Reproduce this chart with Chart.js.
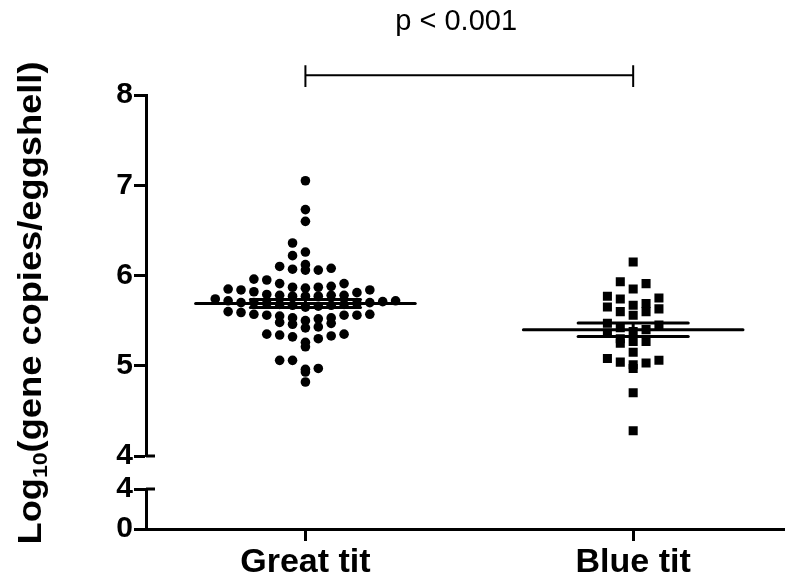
<!DOCTYPE html>
<html>
<head>
<meta charset="utf-8">
<script src="https://cdn.jsdelivr.net/npm/chart.js@4"></script>
<style>
  html, body { margin: 0; padding: 0; background: #fff; }
  #wrap { width: 791px; height: 577px; }
</style>
</head>
<body>
<div id="wrap"><canvas id="chart"></canvas></div>
<script>
// groups on the x axis
const groups = ['Great tit', 'Blue tit'];

// log10 gene copies per eggshell
const greatTit = [
  7.05, 6.73, 6.60, 6.36, 6.26, 6.22,
  6.12, 6.08, 6.06, 6.06, 6.07, 6.10,
  5.96, 5.91, 5.88, 5.87, 5.87, 5.91, 5.95,
  5.85, 5.84, 5.81, 5.78, 5.78, 5.77, 5.77, 5.77, 5.78, 5.79, 5.82, 5.84, 5.86,
  5.70, 5.67, 5.74, 5.72, 5.71, 5.70, 5.69, 5.68, 5.66, 5.72, 5.70, 5.68, 5.65, 5.67, 5.69,
  5.56, 5.53, 5.60, 5.57, 5.56, 5.57, 5.59, 5.53, 5.55, 5.56,
  5.50, 5.47, 5.46, 5.48, 5.52,
  5.43, 5.42,
  5.35, 5.33, 5.30, 5.32, 5.34, 5.35,
  5.26, 5.21,
  5.06, 5.06, 4.96, 4.97, 4.93, 4.82
];
const blueTit = [
  6.15, 5.93, 5.91, 5.85, 5.77, 5.74, 5.75,
  5.67, 5.63, 5.60, 5.56, 5.60, 5.65, 5.69,
  5.47, 5.45, 5.42, 5.40, 5.38, 5.36,
  5.27, 5.25, 5.30, 5.27,
  5.15, 5.06, 5.03, 4.97, 5.01, 5.04, 5.08,
  4.70, 4.28
];

// mean and SEM per group
const groupMeans = [5.69, 5.40];
const groupSems = [0.045, 0.075];

// y ticks either side of the axis break
const upperTicks = [4, 5, 6, 7, 8];
const lowerTicks = [0, 4];

const pLabel = 'p < 0.001';

const ROW_STEP = 0.1;     // values closer than this share a row of the swarm
const COL_STEP = 0.0393;  // horizontal spacing of swarm columns (x units)
const MEAN_HALF = 0.335;
const CAP_HALF = 0.168;
const BRACKET_Y = 8.22;

// prism-like swarm: bin into rows, spread each row around the group centre,
// highest values of a row on the outside
function swarm(values, centre) {
  const sorted = values.slice().sort((a, b) => b - a);
  const rows = [];
  let row = null;
  sorted.forEach(v => {
    if (!row || row[0] - v > ROW_STEP + 1e-9) { row = []; rows.push(row); }
    row.push(v);
  });
  const pts = [];
  rows.forEach(r => {
    const n = r.length;
    const cols = [];
    for (let k = -Math.floor(n / 2); k < n - Math.floor(n / 2); k++) cols.push(k);
    cols.sort((a, b) => Math.abs(b) - Math.abs(a) || a - b);
    r.forEach((v, i) => pts.push({ x: centre + cols[i] * COL_STEP, y: v }));
  });
  return pts;
}

function lineSet(data, width, cap) {
  return {
    type: 'line', data: data, yAxisID: 'y',
    borderColor: '#000', borderWidth: width, borderCapStyle: cap || 'butt',
    pointRadius: 0, fill: false, spanGaps: false, clip: false
  };
}

const datasets = [];
groupMeans.forEach((m, i) => {
  const c = i + 1, s = groupSems[i];
  datasets.push(lineSet([{ x: c - MEAN_HALF, y: m }, { x: c + MEAN_HALF, y: m }], 3, 'round'));
  datasets.push(lineSet([{ x: c - CAP_HALF, y: m + s }, { x: c + CAP_HALF, y: m + s }], 3, 'round'));
  datasets.push(lineSet([{ x: c - CAP_HALF, y: m - s }, { x: c + CAP_HALF, y: m - s }], 3, 'round'));
  datasets.push(lineSet([{ x: c, y: m - s }, { x: c, y: m + s }], 3));
});

datasets.push({
  type: 'scatter', label: groups[0], data: swarm(greatTit, 1), yAxisID: 'y',
  pointStyle: 'circle', pointRadius: 4.8, backgroundColor: '#000', borderWidth: 0
});
datasets.push({
  type: 'scatter', label: groups[1], data: swarm(blueTit, 2), yAxisID: 'y',
  pointStyle: 'rect', pointRadius: 6.4, backgroundColor: '#000', borderWidth: 0
});

// significance bracket
datasets.push(lineSet([
  { x: 1, y: BRACKET_Y - 0.13 }, { x: 1, y: BRACKET_Y + 0.11 }, { x: NaN, y: NaN },
  { x: 1, y: BRACKET_Y }, { x: 2, y: BRACKET_Y }, { x: NaN, y: NaN },
  { x: 2, y: BRACKET_Y - 0.13 }, { x: 2, y: BRACKET_Y + 0.11 }
], 2));

const FONT = "'Liberation Sans', Arial, sans-serif";

const extras = {
  id: 'extras',
  afterDraw(chart) {
    const ctx = chart.ctx;
    const x = chart.scales.x, y = chart.scales.y, yLow = chart.scales.yLow;
    ctx.save();
    // little caps to the right of the axis at the break
    ctx.strokeStyle = '#000';
    ctx.lineWidth = 3;
    [[y, 4], [yLow, 4]].forEach(([sc, v]) => {
      const py = sc.getPixelForValue(v);
      ctx.beginPath();
      ctx.moveTo(x.left, py);
      ctx.lineTo(x.left + 9, py);
      ctx.stroke();
    });
    // p value
    ctx.fillStyle = '#000';
    ctx.font = '29px ' + FONT;
    ctx.textAlign = 'center';
    ctx.textBaseline = 'middle';
    ctx.fillText(pLabel, x.getPixelForValue(1.46), 22);
    // y title with subscript, stretched a little along its length
    const parts = [
      { t: 'Log', f: 'bold 33px ' + FONT, dy: 0 },
      { t: '10', f: 'bold 21px ' + FONT, dy: 9 },
      { t: '(gene copies/eggshell)', f: 'bold 33px ' + FONT, dy: 0 }
    ];
    let total = 0;
    parts.forEach(p => { ctx.font = p.f; p.w = ctx.measureText(p.t).width; total += p.w; });
    const stretch = 483 / total;
    ctx.translate(32, 303);
    ctx.rotate(-Math.PI / 2);
    ctx.scale(stretch, 1);
    ctx.textAlign = 'left';
    ctx.textBaseline = 'middle';
    let cx = -total / 2;
    parts.forEach(p => { ctx.font = p.f; ctx.fillText(p.t, cx, p.dy); cx += p.w; });
    ctx.restore();
  }
};

const yCommon = {
  position: 'left', stack: 'left',
  border: { display: true, color: '#000', width: 3 },
  grid: { drawOnChartArea: false, drawTicks: true, tickLength: 12, tickWidth: 3, tickColor: '#000' },
  ticks: { color: '#000', padding: 1, autoSkip: false, font: { family: FONT, size: 30, weight: 'bold' } },
  afterFit: s => { s.width = 146; }
};

new Chart(document.getElementById('chart'), {
  type: 'scatter',
  data: { datasets: datasets },
  plugins: [extras],
  options: {
    responsive: true,
    maintainAspectRatio: false,
    animation: false,
    layout: { padding: { top: 95, right: 0, bottom: 0, left: 0 } },
    plugins: { legend: { display: false }, tooltip: { enabled: false }, title: { display: false } },
    scales: {
      x: {
        type: 'linear', position: 'bottom', min: 0.5136, max: 2.462,
        afterBuildTicks: s => { s.ticks = groups.map((g, i) => ({ value: i + 1 })); },
        ticks: {
          color: '#000', padding: 1, autoSkip: false, maxRotation: 0, minRotation: 0,
          font: { family: FONT, size: 34, weight: 'bold' },
          callback: v => groups[v - 1]
        },
        border: { display: true, color: '#000', width: 3 },
        grid: { drawOnChartArea: false, drawTicks: true, tickLength: 12, tickWidth: 3, tickColor: '#000' },
        afterFit: s => { s.height = 48; }
      },
      y: Object.assign({}, yCommon, {
        weight: 3, stackWeight: 361, min: 4, max: 8,
        afterBuildTicks: s => { s.ticks = upperTicks.map(v => ({ value: v })); }
      }),
      gap: {
        position: 'left', stack: 'left', weight: 2, stackWeight: 33, min: 0, max: 1,
        ticks: { display: false }, grid: { display: false }, border: { display: false },
        afterFit: s => { s.width = 146; }
      },
      yLow: Object.assign({}, yCommon, {
        weight: 1, stackWeight: 40, min: 0, max: 4,
        afterBuildTicks: s => { s.ticks = lowerTicks.map(v => ({ value: v })); }
      })
    }
  }
});
</script>
</body>
</html>
